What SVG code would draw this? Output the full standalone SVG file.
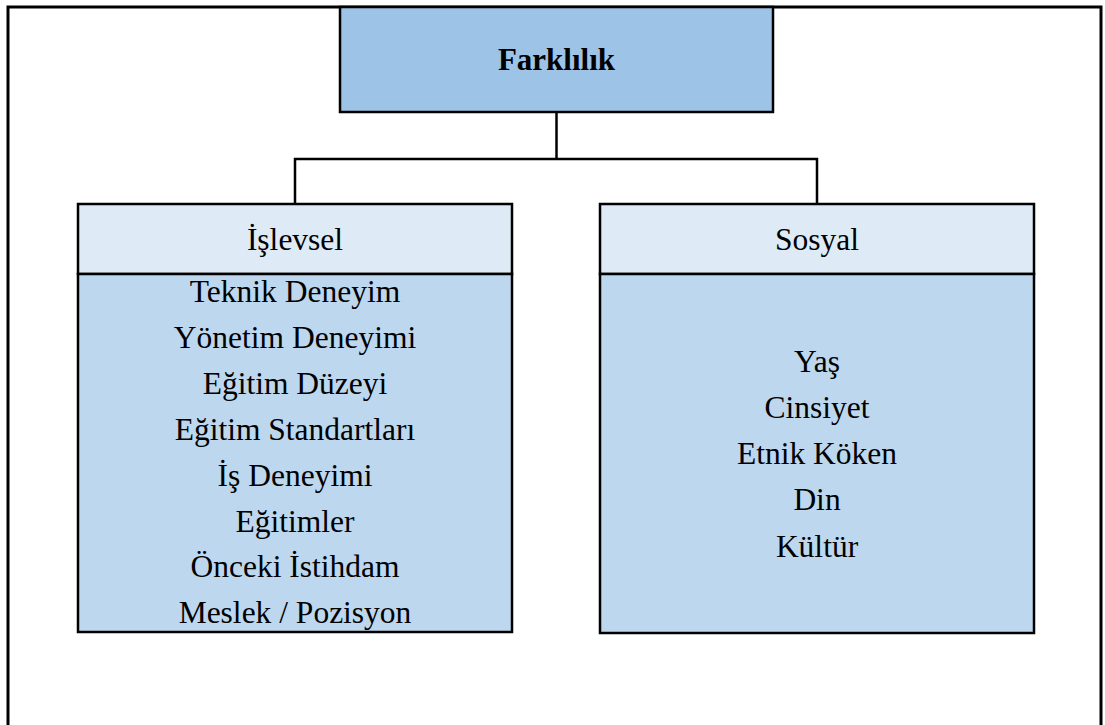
<svg xmlns="http://www.w3.org/2000/svg" width="1105" height="725" viewBox="0 0 1105 725">
  <style>
    .box { stroke: #000; stroke-width: 2.5; }
    .top { fill: #9dc3e6; }
    .head { fill: #deeaf6; }
    .body { fill: #bdd7ee; }
    .lbl { font-family: "Liberation Serif", "Times New Roman", serif; font-size: 31.5px; fill: #000; text-anchor: middle; }
    .bold { font-weight: bold; font-size: 31px; }
    .conn { fill: none; stroke: #000; stroke-width: 2.5; }
  </style>
  <rect width="1105" height="725" fill="#fff"/>
  <!-- outer frame, open at the bottom -->
  <path d="M8 727 V7 H1101 V727" fill="none" stroke="#000" stroke-width="3"/>

  <g id="connectors">
    <path class="conn" d="M556.5 112 V159"/>
    <path class="conn" d="M295 204 V159 H817 V204"/>
  </g>

  <g id="node-farklilik">
    <rect class="box top" x="340" y="7" width="433" height="105"/>
    <text class="lbl bold" x="556.5" y="70">Farklılık</text>
  </g>

  <g id="node-islevsel">
    <rect class="box head" x="78" y="204" width="434" height="70"/>
    <text class="lbl" x="295" y="250">İşlevsel</text>
    <rect class="box body" x="78" y="274" width="434" height="358"/>
    <text class="lbl" x="295" y="302">Teknik Deneyim</text>
    <text class="lbl" x="295" y="348">Yönetim Deneyimi</text>
    <text class="lbl" x="295" y="394">Eğitim Düzeyi</text>
    <text class="lbl" x="295" y="440">Eğitim Standartları</text>
    <text class="lbl" x="295" y="486">İş Deneyimi</text>
    <text class="lbl" x="295" y="532">Eğitimler</text>
    <text class="lbl" x="295" y="577">Önceki İstihdam</text>
    <text class="lbl" x="295" y="623">Meslek / Pozisyon</text>
  </g>

  <g id="node-sosyal">
    <rect class="box head" x="600" y="204" width="434" height="70"/>
    <text class="lbl" x="817" y="250">Sosyal</text>
    <rect class="box body" x="600" y="274" width="434" height="359"/>
    <text class="lbl" x="817" y="372">Yaş</text>
    <text class="lbl" x="817" y="418">Cinsiyet</text>
    <text class="lbl" x="817" y="464">Etnik Köken</text>
    <text class="lbl" x="817" y="510">Din</text>
    <text class="lbl" x="817" y="557">Kültür</text>
  </g>
</svg>
